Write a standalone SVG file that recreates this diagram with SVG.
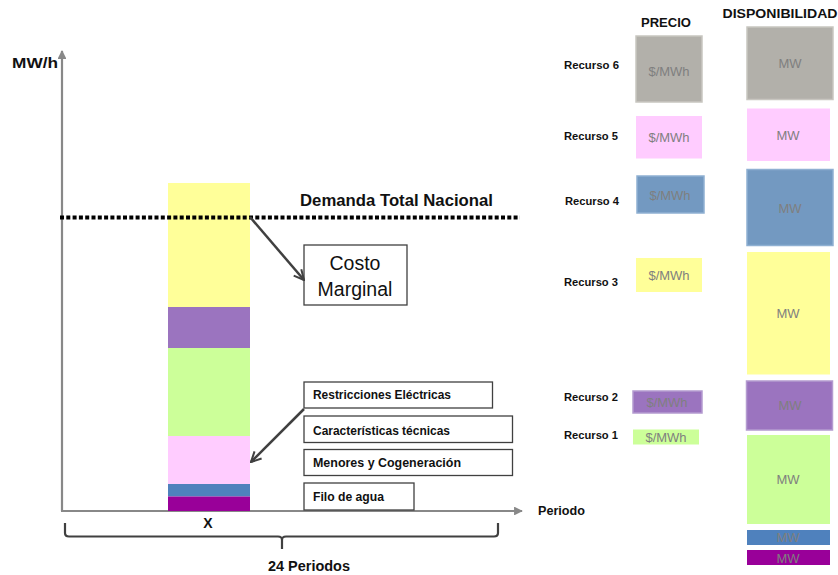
<svg xmlns="http://www.w3.org/2000/svg" width="838" height="575" viewBox="0 0 838 575">
  <style>
    text { font-family: "Liberation Sans", Arial, sans-serif; }
    .lbl { font-weight: bold; fill: #111; }
    .box { fill: #fff; stroke: #404040; stroke-width: 1.3; }
    .unit { font-size: 13px; fill: #7f7f7f; text-anchor: middle; }
    .axis { stroke: #888; stroke-width: 2.2; fill: none; }
    .ptr { stroke: #404040; stroke-width: 2.5; fill: none; }
  </style>
  <defs>
    <marker id="axisHead" viewBox="0 0 10 10" refX="9" refY="5" markerWidth="4" markerHeight="4" orient="auto" markerUnits="strokeWidth">
      <path d="M0,0 L10,5 L0,10 Z" fill="#888"/>
    </marker>
    <marker id="openHead" viewBox="0 0 10 10" refX="9" refY="5" markerWidth="5" markerHeight="5" orient="auto" markerUnits="strokeWidth">
      <path d="M1,1 L9,5 L1,9" fill="none" stroke="#404040" stroke-width="1.6"/>
    </marker>
  </defs>

  <!-- Axes -->
  <g id="axes">
    <line class="axis" x1="62" y1="511" x2="62" y2="51" marker-end="url(#axisHead)"/>
    <line class="axis" x1="61" y1="511" x2="522" y2="511" marker-end="url(#axisHead)"/>
    <text class="lbl" x="12" y="68" font-size="15" textLength="46" lengthAdjust="spacingAndGlyphs">MW/h</text>
    <text class="lbl" x="538" y="515" font-size="13.5" textLength="47" lengthAdjust="spacingAndGlyphs">Periodo</text>
    <text class="lbl" x="208" y="528" font-size="14" text-anchor="middle">X</text>
  </g>

  <!-- Stacked dispatch bar -->
  <g id="stack">
    <rect x="168" y="183" width="82" height="124" fill="#ffff99"/>
    <rect x="168" y="307" width="82" height="41" fill="#9b74bf"/>
    <rect x="168" y="348" width="82" height="88" fill="#ccff99"/>
    <rect x="168" y="436" width="82" height="48" fill="#ffccff"/>
    <rect x="168" y="484" width="82" height="12.5" fill="#4f81bd"/>
    <rect x="168" y="496.5" width="82" height="14.5" fill="#990099"/>
  </g>

  <!-- Demand line -->
  <g id="demanda">
    <line x1="60" y1="217.5" x2="520" y2="217.5" stroke="#000" stroke-width="4" stroke-dasharray="4 2.3"/>
    <text class="lbl" x="300" y="206" font-size="16.5" textLength="193" lengthAdjust="spacingAndGlyphs">Demanda Total Nacional</text>
  </g>

  <!-- Costo Marginal -->
  <g id="costo-marginal">
    <rect class="box" x="304" y="245" width="103" height="60"/>
    <text x="355" y="270" font-size="19.5" fill="#111" text-anchor="middle">Costo</text>
    <text x="355" y="296" font-size="19.5" fill="#111" text-anchor="middle">Marginal</text>
  </g>

  <!-- Inflexible resources -->
  <g id="restricciones">
    <rect class="box" x="304" y="382" width="188.5" height="26"/>
    <text class="lbl" x="313" y="398.5" font-size="12" textLength="138" lengthAdjust="spacingAndGlyphs">Restricciones Eléctricas</text>
  </g>
  <g id="caracteristicas">
    <rect class="box" x="304" y="416" width="208.5" height="26.5"/>
    <text class="lbl" x="313" y="434.5" font-size="12" textLength="137" lengthAdjust="spacingAndGlyphs">Características técnicas</text>
  </g>
  <g id="menores">
    <rect class="box" x="304" y="449.5" width="208.5" height="26"/>
    <text class="lbl" x="313" y="467" font-size="12" textLength="148" lengthAdjust="spacingAndGlyphs">Menores y Cogeneración</text>
  </g>
  <g id="filo">
    <rect class="box" x="304" y="483" width="110" height="27"/>
    <text class="lbl" x="313" y="501" font-size="12" textLength="71" lengthAdjust="spacingAndGlyphs">Filo de agua</text>
  </g>

  <!-- Pointers -->
  <g id="connectors">
    <line class="ptr" x1="250" y1="217" x2="304" y2="280" marker-end="url(#openHead)"/>
    <line class="ptr" x1="304" y1="409" x2="251" y2="462" marker-end="url(#openHead)"/>
  </g>

  <!-- Period brace -->
  <g id="periodos">
    <path d="M65,523 V533 Q65,536.5 69,536.5 H278 Q282,536.5 282,540 V549 M282,540 Q282,536.5 286,536.5 H494 Q498,536.5 498,533 V523" fill="none" stroke="#404040" stroke-width="2.2"/>
    <text class="lbl" x="309" y="571" font-size="14.5" text-anchor="middle" textLength="82" lengthAdjust="spacingAndGlyphs">24 Periodos</text>
  </g>

  <!-- Headers -->
  <g id="headers">
    <text class="lbl" x="666" y="27" font-size="13.5" text-anchor="middle" textLength="50" lengthAdjust="spacingAndGlyphs">PRECIO</text>
    <text class="lbl" x="780" y="18" font-size="13.5" text-anchor="middle" textLength="115" lengthAdjust="spacingAndGlyphs">DISPONIBILIDAD</text>
  </g>

  <!-- Resource labels -->
  <g id="recursos" font-size="11">
    <text class="lbl" x="564" y="69" textLength="55" lengthAdjust="spacingAndGlyphs">Recurso 6</text>
    <text class="lbl" x="564" y="140" textLength="54" lengthAdjust="spacingAndGlyphs">Recurso 5</text>
    <text class="lbl" x="565" y="205" textLength="54" lengthAdjust="spacingAndGlyphs">Recurso 4</text>
    <text class="lbl" x="564" y="286" textLength="54" lengthAdjust="spacingAndGlyphs">Recurso 3</text>
    <text class="lbl" x="564" y="401" textLength="54" lengthAdjust="spacingAndGlyphs">Recurso 2</text>
    <text class="lbl" x="564" y="439" textLength="54" lengthAdjust="spacingAndGlyphs">Recurso 1</text>
  </g>

  <!-- Price blocks -->
  <g id="precio">
    <rect x="636" y="36" width="66" height="66" fill="#b2b0aa" stroke="#c8c6c0" stroke-width="1.5"/>
    <text class="unit" x="669" y="76">$/MWh</text>
    <rect x="636" y="116" width="66" height="42.5" fill="#ffccff"/>
    <text class="unit" x="669" y="142">$/MWh</text>
    <rect x="637" y="176" width="67" height="37" fill="#7399c1" stroke="#8fb0d2" stroke-width="1.5"/>
    <text class="unit" x="670" y="200">$/MWh</text>
    <rect x="636" y="258" width="66" height="34" fill="#ffff99"/>
    <text class="unit" x="669" y="280">$/MWh</text>
    <rect x="633" y="391" width="69" height="22" fill="#9b74bf" stroke="#b49bd0" stroke-width="1.5"/>
    <text class="unit" x="667" y="407">$/MWh</text>
    <rect x="633" y="429.5" width="66" height="15" fill="#ccff99"/>
    <text class="unit" x="666" y="442">$/MWh</text>
  </g>

  <!-- Availability blocks -->
  <g id="disponibilidad">
    <rect x="747" y="27" width="86" height="72.5" fill="#b2b0aa" stroke="#c8c6c0" stroke-width="1.5"/>
    <text class="unit" x="790" y="68">MW</text>
    <rect x="747" y="108.5" width="83" height="52.5" fill="#ffccff"/>
    <text class="unit" x="788" y="140">MW</text>
    <rect x="747" y="169.5" width="86" height="76" fill="#7399c1" stroke="#8fb0d2" stroke-width="1.5"/>
    <text class="unit" x="790" y="213">MW</text>
    <rect x="747" y="252" width="83" height="122.5" fill="#ffff99"/>
    <text class="unit" x="788" y="318">MW</text>
    <rect x="746.5" y="381" width="86" height="49" fill="#9b74bf" stroke="#b49bd0" stroke-width="1.5"/>
    <text class="unit" x="790" y="410">MW</text>
    <rect x="747" y="435" width="83" height="89" fill="#ccff99"/>
    <text class="unit" x="788" y="484">MW</text>
    <rect x="747" y="530" width="83" height="15" fill="#4f81bd"/>
    <text class="unit" x="788" y="542">MW</text>
    <rect x="747" y="550" width="83" height="15" fill="#990099"/>
    <text class="unit" x="788" y="563">MW</text>
  </g>
</svg>
